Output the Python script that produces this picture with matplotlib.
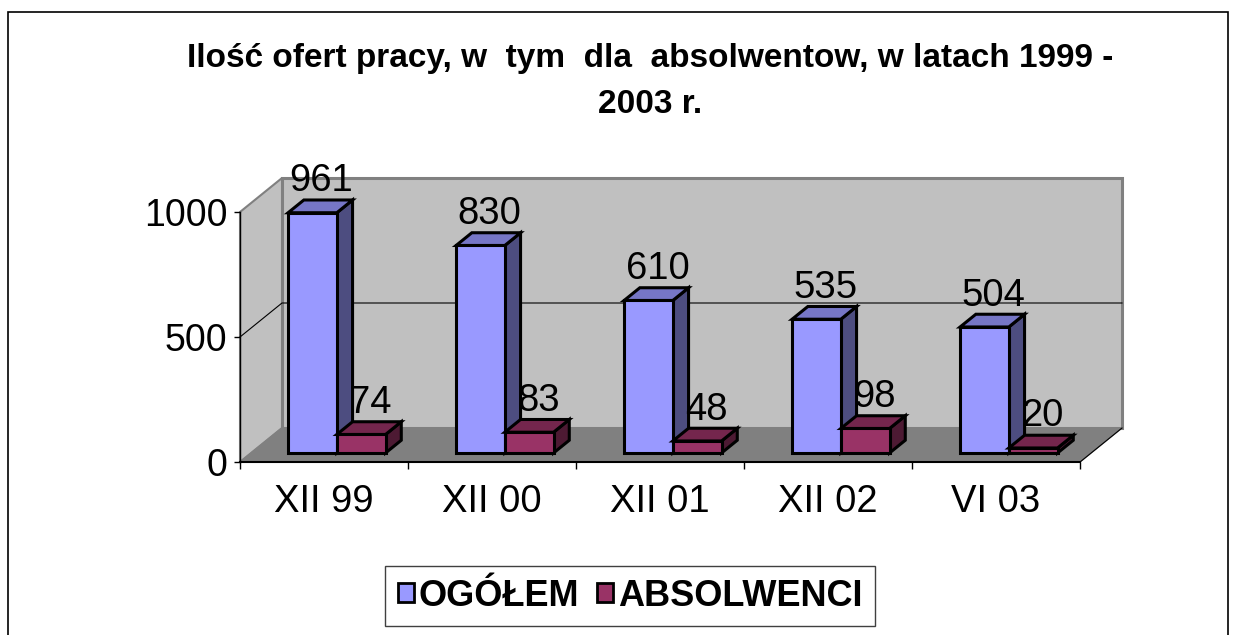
import numpy as np
import matplotlib
matplotlib.use("Agg")
import matplotlib.pyplot as plt
from matplotlib.patches import Polygon, Patch, Rectangle

plt.rcParams['font.family'] = ['Liberation Sans', 'DejaVu Sans']

# dane
kategorie = ['XII 99', 'XII 00', 'XII 01', 'XII 02', 'VI 03']
ogolem = [961, 830, 610, 535, 504]
absolwenci = [74, 83, 48, 98, 20]
serie = ['OGÓŁEM', 'ABSOLWENCI']

# kolory: przód, góra, bok
kol_og = ('#9999FF', '#7676C6', '#4D4D80')
kol_abs = ('#993366', '#74264D', '#4D1A33')

# geometria pseudo-3D (w jednostkach danych)
DX, DY = 0.25, 136.0       # pełna głębokość
f0, f1 = 0.265, 0.64       # głębokość słupka
szer = 0.29
off_og, off_abs = 0.22, 0.51

fig = plt.figure(figsize=(12.37, 6.35), dpi=100)
ax = fig.add_axes([240 / 1237, 173 / 635, 840 / 1237, 250 / 635])
ax.set_xlim(0, len(kategorie))
ax.set_ylim(0, 1000)
ax.patch.set_visible(False)

# ściany i podłoga
n = len(kategorie)
sciana_tyl = Polygon([(DX, DY), (n + DX, DY), (n + DX, 1000 + DY), (DX, 1000 + DY)],
                     closed=True, fc='#C0C0C0', ec='#808080', lw=2.2, clip_on=False, zorder=0)
sciana_lewa = Polygon([(0, 0), (DX, DY), (DX, 1000 + DY), (0, 1000)],
                      closed=True, fc='#C0C0C0', ec='#808080', lw=1.5, clip_on=False, zorder=0)
podloga = Polygon([(0, 0), (n, 0), (n + DX, DY), (DX, DY)],
                  closed=True, fc='#808080', ec='#808080', lw=1, clip_on=False, zorder=0.5)
for p in (sciana_tyl, sciana_lewa, podloga):
    ax.add_patch(p)

# linia siatki 500
ax.plot([0, DX, n + DX], [500, 500 + DY, 500 + DY], color='black', lw=0.8,
        clip_on=False, zorder=0.8)
ax.plot([n, n + DX], [0, DY], color='black', lw=0.8, clip_on=False, zorder=0.8)


def slupek(x0, v, kolory):
    xa, xb = x0 + f0 * DX, x0 + szer + f0 * DX
    ya = f0 * DY
    ddx, ddy = (f1 - f0) * DX, (f1 - f0) * DY
    przod = [(xa, ya), (xb, ya), (xb, ya + v), (xa, ya + v)]
    gora = [(xa, ya + v), (xb, ya + v), (xb + ddx, ya + v + ddy), (xa + ddx, ya + v + ddy)]
    bok = [(xb, ya), (xb + ddx, ya + ddy), (xb + ddx, ya + v + ddy), (xb, ya + v)]
    for pts, c in ((bok, kolory[2]), (gora, kolory[1]), (przod, kolory[0])):
        ax.add_patch(Polygon(pts, closed=True, fc=c, ec='black', lw=2.2,
                             joinstyle='miter', clip_on=False, zorder=2))
    ax.text(x0 + szer / 2 + 0.12, v + 122, str(v), ha='center', va='baseline',
            fontsize=27.5, zorder=3)


for i in range(n):
    slupek(i + off_og, ogolem[i], kol_og)
    slupek(i + off_abs, absolwenci[i], kol_abs)

# osie
ax.set_yticks([0, 500, 1000])
ax.set_yticklabels(['0', '500', '1000'], fontsize=27)
ax.tick_params(axis='y', length=4, width=1, pad=5)
ax.set_xticks(np.arange(n) + 0.5)
ax.set_xticklabels(kategorie, fontsize=27.5)
ax.set_xticks(np.arange(n + 1), minor=True)
ax.tick_params(axis='x', which='major', length=0, pad=16)
ax.tick_params(axis='x', which='minor', length=5, width=1)
for s in ('top', 'right'):
    ax.spines[s].set_visible(False)
ax.spines['left'].set_linewidth(1)
ax.spines['bottom'].set_linewidth(1.5)

# tytuł
fig.text(650 / 1237, 1 - 67 / 635,
         'Ilość ofert pracy, w  tym  dla  absolwentow, w latach 1999 -',
         ha='center', va='baseline', fontsize=24, fontweight='bold')
fig.text(650 / 1237, 1 - 113 / 635, '2003 r.', ha='center', va='baseline',
         fontsize=24, fontweight='bold')

# legenda
uchwyty = [Patch(fc=kol_og[0], ec='black', lw=2), Patch(fc=kol_abs[0], ec='black', lw=2)]
leg = fig.legend(uchwyty, serie, loc='center', bbox_to_anchor=(630 / 1237, 1 - 596 / 635),
                 ncol=2, fancybox=False, framealpha=1, edgecolor='#404040',
                 prop={'size': 26, 'weight': 'bold'}, handlelength=0.45,
                 handleheight=0.45, handletextpad=0.12, columnspacing=0.5,
                 borderpad=0.35, borderaxespad=0)
leg.get_frame().set_linewidth(1)

# ramka wykresu
fig.patches.append(Rectangle((8 / 1237, -0.1), 1220 / 1237, 1.1 - 12 / 635,
                             transform=fig.transFigure, fill=False, ec='black', lw=1.2))

fig.savefig('out.png', dpi=100)
